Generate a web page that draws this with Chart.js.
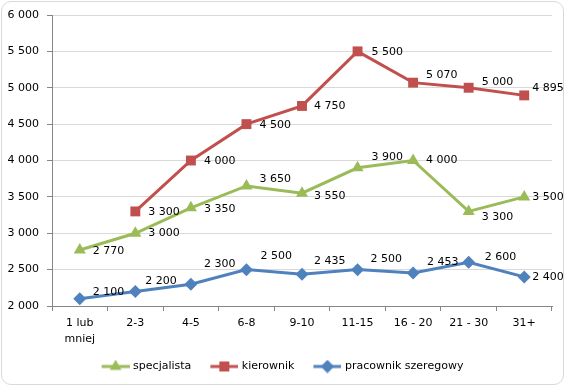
<!DOCTYPE html>
<html>
<head>
<meta charset="utf-8">
<script src="https://cdn.jsdelivr.net/npm/chart.js@4"></script>
<style>
  html, body { margin: 0; padding: 0; background: #fff; }
  #wrap { position: relative; width: 567px; height: 388px; }
  #frame { position: absolute; left: 1px; top: 1px; width: 563px; height: 384px;
           border: 1px solid #d9d9d9; border-radius: 10px; box-sizing: border-box; }
  canvas { position: absolute; left: 0; top: 0; }
</style>
</head>
<body>
<div id="wrap">
  <div id="frame"></div>
  <canvas id="wykres" width="567" height="388"></canvas>
</div>
<script>
// Dane wykresu
const kategorie = [['1 lub', 'mniej'], '2-3', '4-5', '6-8', '9-10', '11-15', '16 - 20', '21 - 30', '31+'];
const specjalista = [2770, 3000, 3350, 3650, 3550, 3900, 4000, 3300, 3500];
const kierownik = [null, 3300, 4000, 4500, 4750, 5500, 5070, 5000, 4895];
const pracownikSzeregowy = [2100, 2200, 2300, 2500, 2435, 2500, 2453, 2600, 2400];
const nazwySerii = ['specjalista', 'kierownik', 'pracownik szeregowy'];

// Przesunięcia etykiet danych (dx, dy) względem punktu
const offSpec = [[13, 1], [13, 0], [13, 1], [13, -7], [12, 3], [14, -11], [13, 0], [13, 6], [8, 0]];
const offKier = [[0, 0], [13, 1], [13, 1], [13, 1], [12, 0], [14, 1], [13, -8], [13, -6], [8, -7]];
const offPrac = [[13, -7], [10, -10], [13, -20], [14, -13], [12, -13], [13, -10], [14, -11], [16, -5], [8, 0]];

const kolory = ['#9bbb59', '#c0504d', '#4f81bd'];
const style = ['triangle', 'rect', 'rectRot'];

function spacja(n) {
  return String(n).replace(/\B(?=(\d{3})+(?!\d))/g, ' ');
}

// Ikona legendy: linia z markerem (z lewym marginesem, bo obraz jest centrowany w polu)
function ikonaLegendy(kolor, ksztalt) {
  const c = document.createElement('canvas');
  c.width = 39; c.height = 14;
  const g = c.getContext('2d');
  g.strokeStyle = kolor; g.lineWidth = 3;
  g.beginPath(); g.moveTo(11, 7); g.lineTo(39, 7); g.stroke();
  g.fillStyle = kolor;
  Chart.helpers.drawPoint(g, { pointStyle: ksztalt, radius: ksztalt === 'rect' ? 7 : 6.5, borderWidth: 0 }, 25, 7);
  g.fill();
  return c;
}

const etykietyDanych = {
  id: 'etykietyDanych',
  afterDatasetsDraw(chart) {
    const ctx = chart.ctx;
    const offsety = [offSpec, offKier, offPrac];
    ctx.save();
    ctx.font = '11px "DejaVu Sans"';
    ctx.fillStyle = '#000';
    ctx.textAlign = 'left';
    ctx.textBaseline = 'middle';
    chart.data.datasets.forEach((ds, i) => {
      const meta = chart.getDatasetMeta(i);
      meta.data.forEach((pt, j) => {
        const v = ds.data[j];
        if (v === null) return;
        const o = offsety[i][j];
        ctx.fillText(spacja(v), pt.x + o[0], pt.y + o[1]);
      });
    });
    ctx.restore();
  }
};

const ikony = kolory.map((k, i) => ikonaLegendy(k, style[i]));

function zbior(nazwa, dane, i, r) {
  return {
    label: nazwa,
    data: dane,
    borderColor: kolory[i],
    backgroundColor: kolory[i],
    borderWidth: 3,
    pointStyle: style[i],
    pointRadius: r,
    pointHoverRadius: r,
    pointBorderWidth: 0,
    tension: 0,
    spanGaps: false
  };
}

new Chart(document.getElementById('wykres'), {
  type: 'line',
  data: {
    labels: kategorie,
    datasets: [
      zbior(nazwySerii[0], specjalista, 0, 7),
      zbior(nazwySerii[1], kierownik, 1, 7),
      zbior(nazwySerii[2], pracownikSzeregowy, 2, 6.5)
    ]
  },
  options: {
    responsive: false,
    animation: false,
    layout: { padding: { left: 4, right: 15, top: 15, bottom: 6 } },
    scales: {
      x: {
        offset: true,
        grid: { offset: true, drawOnChartArea: false, tickLength: 5, tickColor: '#868686' },
        border: { color: '#868686' },
        ticks: { color: '#000', font: { family: 'DejaVu Sans', size: 11, lineHeight: 1.45 }, maxRotation: 0, padding: 4 },
        afterFit: s => { s.height = 45; }
      },
      y: {
        min: 2000, max: 6000,
        grid: { color: '#d9d9d9', tickLength: 5, tickColor: '#868686' },
        border: { color: '#868686' },
        ticks: { stepSize: 500, color: '#000', padding: 8, font: { family: 'DejaVu Sans', size: 11 }, callback: v => spacja(v) },
        afterFit: s => { s.width = 48; }
      }
    },
    plugins: {
      tooltip: { enabled: false },
      legend: {
        position: 'bottom',
        labels: {
          usePointStyle: true,
          pointStyleWidth: 35,
          boxHeight: 11,
          padding: 10,
          color: '#000',
          font: { family: 'DejaVu Sans', size: 11 },
          generateLabels: chart => Chart.defaults.plugins.legend.labels.generateLabels(chart).map((l, i) => {
            l.pointStyle = ikony[i];
            return l;
          })
        }
      }
    }
  },
  plugins: [etykietyDanych]
});
</script>
</body>
</html>
